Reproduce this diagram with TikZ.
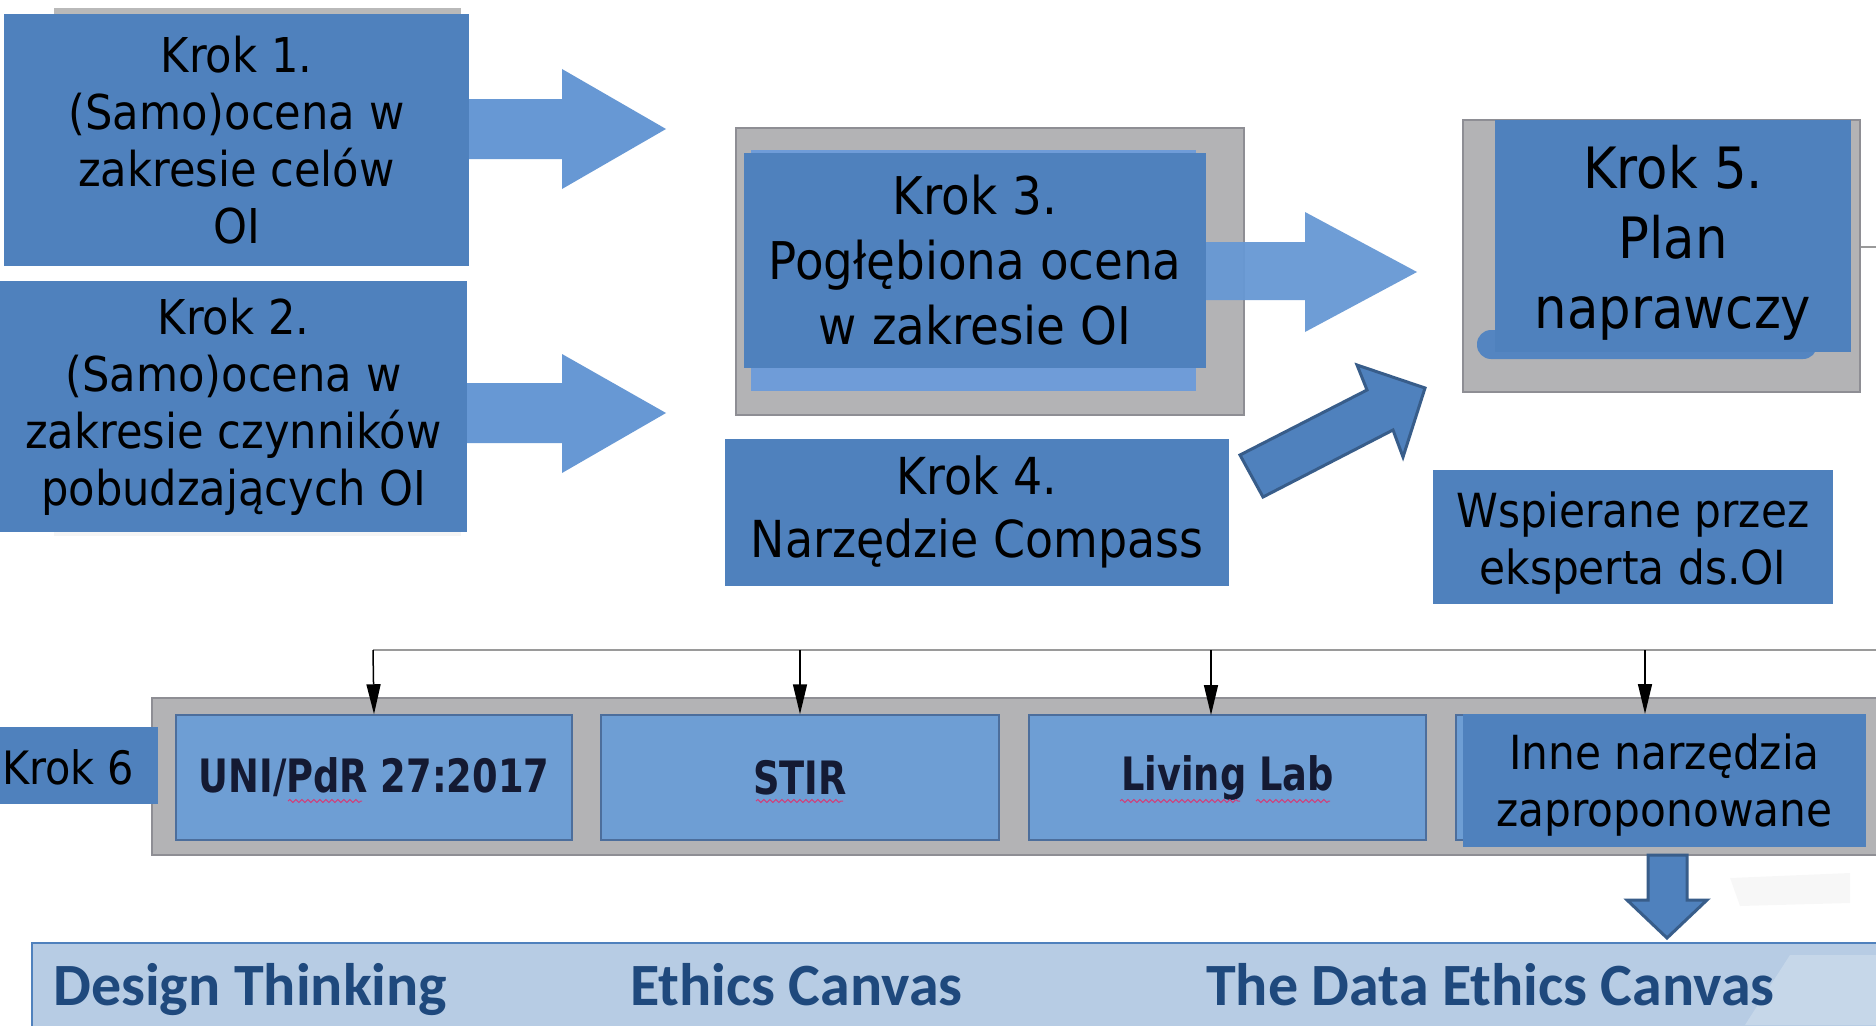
\documentclass[tikz,border=0pt]{standalone}
\usepackage{fontspec}
\newfontfamily\boxfont{DejaVu Sans}[FakeStretch=0.9]
\newfontfamily\rowfont{DejaVu Sans}[FakeStretch=0.8]
\newfontfamily\bandfont{Carlito}
\usetikzlibrary{arrows.meta,decorations.pathmorphing,calc}
\definecolor{mainblue}{HTML}{4F81BD}
\definecolor{edgeblue}{HTML}{385D8A}
\definecolor{arrowblue}{HTML}{6798D4}
\definecolor{lightbar}{HTML}{6F9CD8}
\definecolor{framegray}{HTML}{B3B3B5}
\definecolor{frameedge}{HTML}{8E8E94}
\definecolor{rowblue}{HTML}{6E9ED4}
\definecolor{rowedge}{HTML}{4C6E9C}
\definecolor{bandfill}{HTML}{B7CCE4}
\definecolor{bandtext}{HTML}{1F497D}
\definecolor{rowtext}{HTML}{141a33}
\definecolor{busgray}{HTML}{9A9A9A}
\definecolor{wavered}{HTML}{D0407A}
\begin{document}
\begin{tikzpicture}[x=1pt,y=-1pt,
  bluebox/.style={fill=mainblue, draw=none, inner sep=0pt, align=center, text=black},
  boxtext/.style={inner sep=0pt, align=center, text=black},
  framebox/.style={fill=framegray, draw=frameedge, line width=2pt},
  rowbox/.style={fill=rowblue, draw=rowedge, line width=1.5pt, inner sep=0pt,
     font={\rowfont\bfseries\fontsize{46}{55}\selectfont}, text=rowtext},
  blockarrow/.style={fill=arrowblue, draw=none},
  outlinearrow/.style={fill=mainblue, draw=edgeblue, line width=3pt, line join=miter},
  bus/.style={draw=busgray, line width=2.5pt},
  drop/.style={draw=black, line width=1.5pt, -{Triangle[length=30pt,width=14pt]}},
  wave/.style={draw=wavered, line width=1pt, decorate,
     decoration={snake, segment length=6pt, amplitude=1.5pt}},
  bandlabel/.style={anchor=base west, inner sep=0pt, text=bandtext,
     font={\bandfont\bfseries\fontsize{60}{70}\selectfont}}
]
\useasboundingbox (0,0) rectangle (1876,1025);
\clip (0,0) rectangle (1876,1025);
\fill[white] (0,0) rectangle (1876,1025);

% ---- shadows
\fill[gray!55] (54,8) rectangle (461,15);
\fill[gray!8] (54,532) rectangle (461,536);

% ---- Krok 1 and Krok 2
\node[bluebox, minimum width=465pt, minimum height=252pt,
  font={\boxfont\fontsize{48}{57}\selectfont}] (k1) at (236.5,140)
  {Krok 1.\\(Samo)ocena w\\zakresie celów\\OI};
\node[bluebox, minimum width=467pt, minimum height=251pt,
  font={\boxfont\fontsize{48}{57}\selectfont}] (k2) at (233.5,406.5)
  {Krok 2.\\(Samo)ocena w\\zakresie czynników\\pobudzających OI};

% ---- block arrows 1 and 2
\fill[blockarrow] (469,99) -- (562,99) -- (562,69) -- (666,129) -- (562,189)
  -- (562,159) -- (469,159) -- cycle;
\fill[blockarrow] (467,383) -- (562,383) -- (562,354) -- (666,413) -- (562,473)
  -- (562,443) -- (467,443) -- cycle;

% ---- Krok 3
\node[framebox, minimum width=508pt, minimum height=287pt, inner sep=0pt] (k3f) at (990,271.5) {};
\fill[lightbar] (751,150) rectangle (1196,391);
\node[bluebox, minimum width=462pt, minimum height=215pt,
  font={\boxfont\fontsize{52}{65}\selectfont}] (k3) at (975,260.5)
  {Krok 3.\\Pogłębiona ocena\\w zakresie OI};

% ---- arrow 3
\fill[blockarrow, opacity=0.95] (1206,242) -- (1305,242) -- (1305,212) -- (1417,272)
  -- (1305,332) -- (1305,300) -- (1206,300) -- cycle;

% ---- Krok 4
\node[bluebox, minimum width=504pt, minimum height=147pt,
  font={\boxfont\fontsize{51}{63}\selectfont}] (k4) at (977,512)
  {Krok 4.\\Narzędzie Compass};

% ---- diagonal arrow
\draw[outlinearrow] (1240,455) -- (1367,390) -- (1357,365) -- (1425,388)
  -- (1403,457) -- (1393,430) -- (1263,497) -- cycle;

% ---- Krok 5
\node[framebox, minimum width=397pt, minimum height=272pt, inner sep=0pt] (k5f) at (1661.5,256) {};
\fill[mainblue!85!lightbar, rounded corners=14pt] (1477,330) rectangle (1817,359);
\node[bluebox, minimum width=356pt, minimum height=232pt] (k5) at (1673,236) {};
\node[boxtext, font={\boxfont\fontsize{57}{70}\selectfont}] (k5t) at (1673,243)
  {Krok 5.\\Plan\\naprawczy};
\draw[busgray, line width=2pt] (k5f.east |- 0,247) -- (1876,247);

% ---- Wspierane
\node[bluebox, minimum width=400pt, minimum height=134pt] (wsp) at (1633,537) {};
\node[boxtext, font={\boxfont\fontsize{47}{57}\selectfont}] (wspt) at (1633,543)
  {Wspierane przez\\eksperta ds.OI};

% ---- bottom row frame
\draw[framebox] (152,698) rectangle (1900,855);
\node[rowbox, minimum width=396pt, minimum height=125pt] (uni) at (374,777.5) {UNI/PdR 27:2017};
\node[rowbox, minimum width=398pt, minimum height=125pt] (stir) at (800,777.5) {STIR};
\node[rowbox, minimum width=397pt, minimum height=125pt] (ll) at (1227.5,777.5) {Living Lab};
\node[rowbox, minimum width=406pt, minimum height=125pt] (r4) at (1659,777.5) {};
\node[bluebox, minimum width=403pt, minimum height=133pt] (inne) at (1664.5,780.5) {};
\node[boxtext, font={\boxfont\fontsize{47}{57}\selectfont}] (innet) at (1664.5,785.5)
  {Inne narzędzia\\zaproponowane};

% spell-check underlines
\draw[wave] (288,801) -- (362,801);
\draw[wave] (756,801) -- (843,801);
\draw[wave] (1120,801) -- (1240,801);
\draw[wave] (1256,801) -- (1330,801);

% ---- Krok 6
\fill[mainblue] (-5,727) rectangle (158,804);
\node[anchor=west, inner sep=0pt, text=black,
  font={\boxfont\fontsize{46}{55}\selectfont}] (k6) at (2,767) {Krok 6};

% ---- bus connectors
\coordinate (busL) at (373,650);
\coordinate (busR) at (1876,650);
\draw[bus] (busL) -- (busR);
\draw[drop] (busL) -- (uni.north);
\draw[drop] (stir.north |- busL) -- (stir.north);
\draw[drop] (1211,650) -- (1211,715);
\draw[drop] (1645,650) -- (1645,714);

% ---- down arrow
\draw[outlinearrow] (1648,855) -- (1687,855) -- (1687,900) -- (1707,900) -- (1667,938)
  -- (1627,900) -- (1648,900) -- cycle;

% ---- bottom band
\draw[fill=bandfill, draw=mainblue, line width=2pt] (32,943) rectangle (1900,1040);
\fill[white, opacity=0.22] (1745,1025) -- (1790,955) -- (1876,955) -- (1876,1025) -- cycle;
\fill[gray, opacity=0.06] (1730,878) -- (1850,873) -- (1850,903) -- (1740,906) -- cycle;
\node[bandlabel] (dt) at (53,1005) {Design Thinking};
\node[bandlabel] (ec) at (630,1005) {Ethics Canvas};
\node[bandlabel] (dec) at (1206,1005) {The Data Ethics Canvas};
\end{tikzpicture}
\end{document}
